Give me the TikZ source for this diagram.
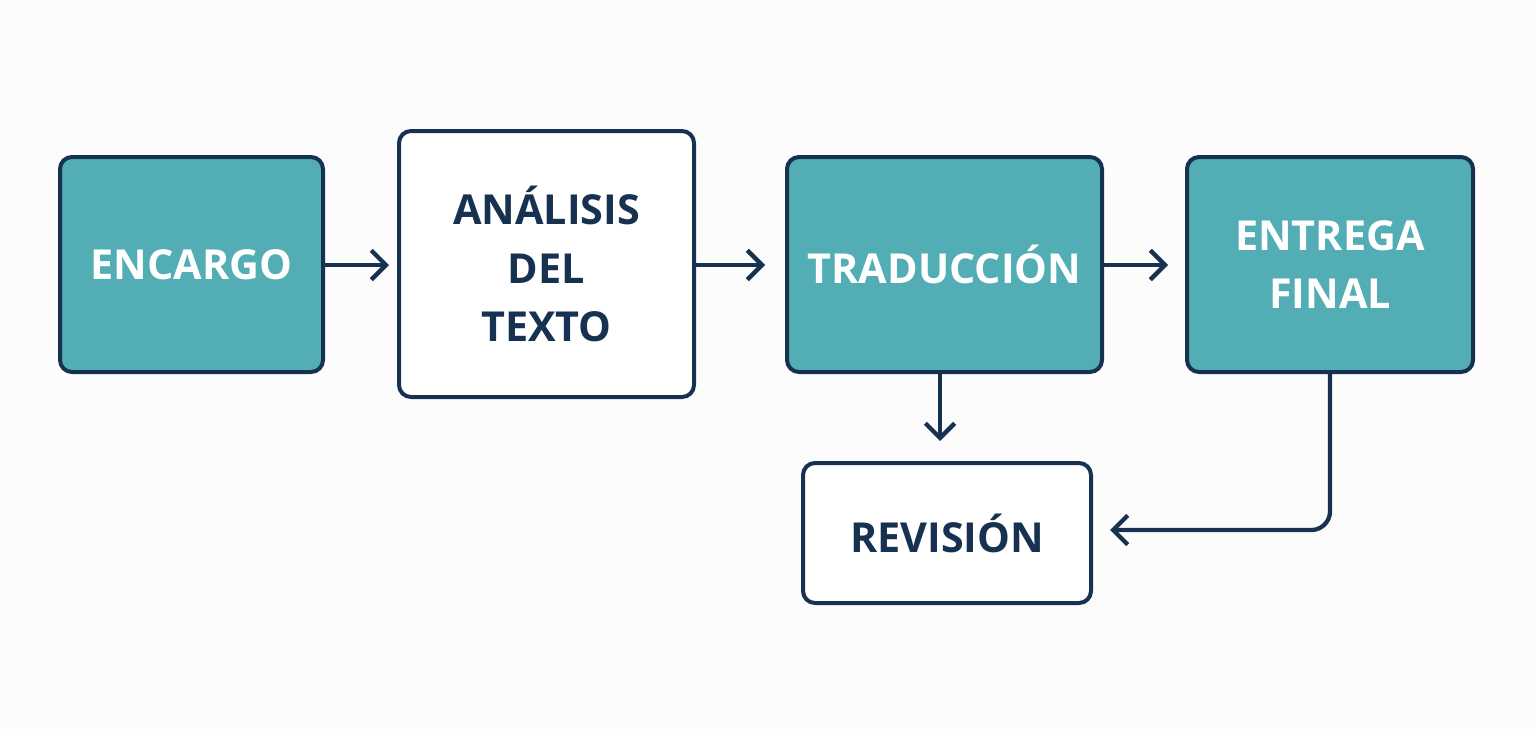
\documentclass[tikz,border=0pt]{standalone}
\usepackage{fontspec}
\setmainfont{Open Sans}
\usetikzlibrary{arrows.meta}
\definecolor{tealbox}{RGB}{82,174,180}
\definecolor{navy}{RGB}{22,50,80}
\tikzset{every picture/.style={line width=0.75pt}}
\tikzset{
  stepfill/.style={draw=navy, line width=3pt, rounded corners=9pt, fill=tealbox, text=white, align=center, font=\fontsize{31}{44}\selectfont\bfseries, inner sep=0pt},
  stepwhite/.style={draw=navy, line width=3pt, rounded corners=9pt, fill=white, text=navy, align=center, font=\fontsize{31}{44}\selectfont\bfseries, inner sep=0pt},
  flow/.style={draw=navy, line width=3.2pt, -{Straight Barb[length=11pt,width=22pt]}}
}

\begin{document}
\begin{tikzpicture}[x=0.75pt,y=0.75pt,yscale=-1,xscale=1]
\fill[white!98!gray] (0,0) rectangle (1535,729);
\useasboundingbox (0,0) rectangle (1535,729);

% Boxes
\node [stepfill, minimum width=263*0.75pt, minimum height=215*0.75pt] (encargo) at (191.5,264.5) {ENCARGO};
\node [stepwhite, minimum width=295*0.75pt, minimum height=266*0.75pt] (analisis) at (546.5,264) {ANÁLISIS\\DEL\\TEXTO};
\node [stepfill, minimum width=315*0.75pt, minimum height=215*0.75pt] (traduccion) at (944.5,264.5) {TRADUCCIÓN};
\node [stepfill, minimum width=286*0.75pt, minimum height=215*0.75pt] (entrega) at (1330,264.5) {ENTREGA\\FINAL};
\node [stepwhite, minimum width=288*0.75pt, minimum height=140*0.75pt] (revision) at (947,533) {REVISIÓN};

% Connectors
\coordinate (c1) at (389,265);
\coordinate (c2) at (765,265);
\coordinate (c3) at (1168,265);
\coordinate (c4) at (940,441);
\coordinate (c5) at (1110,530);
\draw [flow] (encargo.east |- c1) -- (c1);
\draw [flow] (analisis.east |- c2) -- (c2);
\draw [flow] (traduccion.east |- c3) -- (c3);
\draw [flow] (traduccion.south -| c4) -- (c4);
\draw [flow, rounded corners=14pt] (entrega.south) -- (entrega.south |- c5) -- (c5);

\end{tikzpicture}
\end{document}
